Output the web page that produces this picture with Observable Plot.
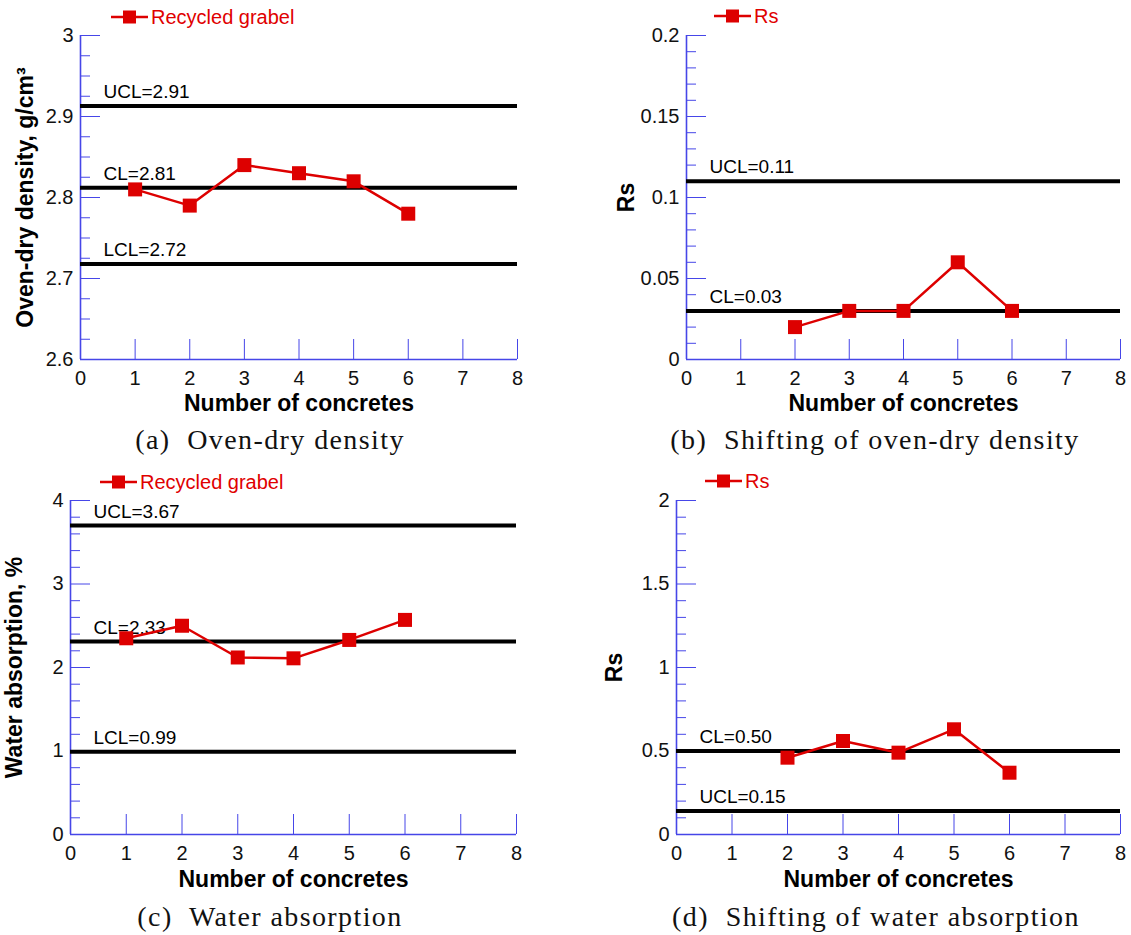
<!DOCTYPE html>
<html>
<head>
<meta charset="utf-8">
<script src="https://cdn.jsdelivr.net/npm/d3@7"></script>
<script src="https://cdn.jsdelivr.net/npm/@observablehq/plot@0.6"></script>
<style>
  body { margin: 0; background: #fff; }
  #fig { position: relative; width: 1131px; height: 935px; overflow: hidden; background: #fff; }
  .holder { position: absolute; }
  .legend { position: absolute; display: flex; align-items: center; color: #e00000;
            font-family: "Liberation Sans", Arial, sans-serif; font-size: 20px; white-space: nowrap; }
  .caption { position: absolute; font-family: "Liberation Serif", "Times New Roman", serif; font-size: 28px;
             letter-spacing: 1.4px; white-space: nowrap; transform: translateX(-50%); color: #111; line-height: 30px; }
</style>
</head>
<body>
<div id="fig"></div>
<script>
// ---------- data ----------
const xTicks = [0, 1, 2, 3, 4, 5, 6, 7, 8];
const xTickLabels = ["0", "1", "2", "3", "4", "5", "6", "7", "8"];
const xTitle = "Number of concretes";

// (a) Oven-dry density
const densityX = [1, 2, 3, 4, 5, 6];
const densityY = [2.81, 2.79, 2.84, 2.83, 2.82, 2.78];
const densityRef = [2.913, 2.812, 2.718];
const densityRefLabels = ["UCL=2.91", "CL=2.81", "LCL=2.72"];
const densityYTicks = [2.6, 2.7, 2.8, 2.9, 3];
const densityYTickLabels = ["2.6", "2.7", "2.8", "2.9", "3"];

// (b) Shifting of oven-dry density
const densityRsX = [2, 3, 4, 5, 6];
const densityRsY = [0.02, 0.03, 0.03, 0.06, 0.03];
const densityRsRef = [0.11, 0.03];
const densityRsRefLabels = ["UCL=0.11", "CL=0.03"];
const densityRsYTicks = [0, 0.05, 0.1, 0.15, 0.2];
const densityRsYTickLabels = ["0", "0.05", "0.1", "0.15", "0.2"];

// (c) Water absorption
const absorptionX = [1, 2, 3, 4, 5, 6];
const absorptionY = [2.35, 2.50, 2.12, 2.11, 2.33, 2.57];
const absorptionRef = [3.70, 2.31, 0.99];
const absorptionRefLabels = ["UCL=3.67", "CL=2.33", "LCL=0.99"];
const absorptionYTicks = [0, 1, 2, 3, 4];
const absorptionYTickLabels = ["0", "1", "2", "3", "4"];

// (d) Shifting of water absorption
const absorptionRsX = [2, 3, 4, 5, 6];
const absorptionRsY = [0.46, 0.56, 0.49, 0.63, 0.37];
const absorptionRsRef = [0.50, 0.14];
const absorptionRsRefLabels = ["CL=0.50", "UCL=0.15"];
const absorptionRsYTicks = [0, 0.5, 1, 1.5, 2];
const absorptionRsYTickLabels = ["0", "0.5", "1", "1.5", "2"];

const seriesNames = ["Recycled grabel", "Rs", "Recycled grabel", "Rs"];
const yTitles = ["Oven-dry density, g/cm\u00B3", "Rs", "Water absorption, %", "Rs"];
const captions = ["(a)\u00A0 Oven-dry density", "(b)\u00A0 Shifting of oven-dry density",
                  "(c)\u00A0 Water absorption", "(d)\u00A0 Shifting of water absorption"];

// ---------- styling / layout ----------
const BLUE = "#4646e8";
const RED = "#dd0000";
const FONT = "Liberation Sans, Arial, Helvetica, sans-serif";

const panels = [
  { xs: densityX, ys: densityY, ref: densityRef, refLabels: densityRefLabels, yTicks: densityYTicks, yTickLabels: densityYTickLabels, minorDiv: 4,
    svg: {left: 0, top: 0, w: 565, h: 420}, frame: {left: 80, right: 517, top: 35, bottom: 359}, yLabelOffset: 64, xLabelOffset: 51,
    legend: {left: 111, top: 5}, caption: {cx: 270, top: 425} },
  { xs: densityRsX, ys: densityRsY, ref: densityRsRef, refLabels: densityRsRefLabels, yTicks: densityRsYTicks, yTickLabels: densityRsYTickLabels, minorDiv: 5,
    svg: {left: 565, top: 0, w: 566, h: 420}, frame: {left: 686, right: 1120, top: 35, bottom: 359}, yLabelOffset: 69, xLabelOffset: 51,
    legend: {left: 714, top: 4}, caption: {cx: 875, top: 425} },
  { xs: absorptionX, ys: absorptionY, ref: absorptionRef, refLabels: absorptionRefLabels, yTicks: absorptionYTicks, yTickLabels: absorptionYTickLabels, minorDiv: 5,
    svg: {left: 0, top: 460, w: 565, h: 420}, frame: {left: 70, right: 516, top: 500, bottom: 834}, yLabelOffset: 65, xLabelOffset: 52,
    legend: {left: 100, top: 470}, caption: {cx: 270, top: 902} },
  { xs: absorptionRsX, ys: absorptionRsY, ref: absorptionRsRef, refLabels: absorptionRsRefLabels, yTicks: absorptionRsYTicks, yTickLabels: absorptionRsYTickLabels, minorDiv: 5,
    svg: {left: 565, top: 460, w: 566, h: 420}, frame: {left: 676, right: 1120, top: 500, bottom: 834}, yLabelOffset: 71, xLabelOffset: 52,
    legend: {left: 705, top: 469}, caption: {cx: 876, top: 902} }
];

const fig = document.getElementById("fig");

panels.forEach((p, k) => {
  const pts = p.xs.map((x, i) => ({x, y: p.ys[i]}));
  const refs = p.ref.map((v, i) => ({y: v, label: p.refLabels[i]}));
  const y0 = p.yTicks[0], y1 = p.yTicks[p.yTicks.length - 1];
  const step = (p.yTicks[1] - p.yTicks[0]) / p.minorDiv;
  const minor = d3.range(Math.round((y1 - y0) / step) + 1).map(i => y0 + i * step)
    .filter((v, i) => i % p.minorDiv !== 0);
  const yFmt = new Map(p.yTicks.map((t, i) => [t, p.yTickLabels[i]]));
  const xFmt = new Map(xTicks.map((t, i) => [t, xTickLabels[i]]));

  const S = p.svg, F = p.frame;
  const chart = Plot.plot({
    width: S.w, height: S.h,
    marginLeft: F.left - S.left, marginRight: S.left + S.w - F.right,
    marginTop: F.top - S.top, marginBottom: S.top + S.h - F.bottom,
    x: {domain: [0, 8]},
    y: {domain: [y0, y1]},
    style: {fontSize: "20px", fontFamily: FONT, color: "#111", background: "transparent", overflow: "visible"},
    marks: [
      Plot.axisY(minor, {tickSize: -10, tickFormat: () => "", stroke: BLUE, label: null}),
      Plot.axisY(p.yTicks, {tickSize: -20, tickFormat: () => "", stroke: BLUE, label: null}),
      Plot.axisX(xTicks.slice(1), {tickSize: -20, tickFormat: () => "", stroke: BLUE, label: null}),
      Plot.ruleX([0], {stroke: BLUE, strokeWidth: 1.6}),
      Plot.ruleY([y0], {stroke: BLUE, strokeWidth: 1.6}),
      Plot.axisY(p.yTicks, {tickSize: 0, tickPadding: 7, tickFormat: d => yFmt.get(d), label: null}),
      Plot.axisX(xTicks, {tickSize: 0, tickPadding: 11, tickFormat: d => xFmt.get(d), label: null}),
      // axis titles
      Plot.text([yTitles[k]], {text: d => d, frameAnchor: "left", rotate: -90, lineAnchor: "top", textAnchor: "middle",
        dx: -p.yLabelOffset, fontWeight: "bold", fontSize: 23, fill: "#000"}),
      Plot.text([xTitle], {text: d => d, frameAnchor: "bottom", lineAnchor: "bottom", textAnchor: "middle",
        dy: p.xLabelOffset, fontWeight: "bold", fontSize: 23, fill: "#000"}),
      // control lines
      Plot.ruleY(refs, {y: "y", stroke: "#000", strokeWidth: 4}),
      Plot.text(refs, {y: "y", text: "label", frameAnchor: "left", textAnchor: "start", lineAnchor: "bottom",
        dx: 23, dy: -8, fontSize: 19, fill: "#000"}),
      // series
      Plot.line(pts, {x: "x", y: "y", stroke: RED, strokeWidth: 2.5}),
      Plot.dot(pts, {x: "x", y: "y", symbol: "square", r: 7.9, fill: RED, stroke: "none"})
    ]
  });
  const holder = document.createElement("div");
  holder.className = "holder";
  holder.style.left = S.left + "px";
  holder.style.top = S.top + "px";
  holder.appendChild(chart);
  fig.appendChild(holder);

  // legend
  const lg = document.createElement("div");
  lg.className = "legend";
  lg.style.left = p.legend.left + "px";
  lg.style.top = p.legend.top + "px";
  lg.innerHTML = `<svg width="37" height="24"><line x1="0" x2="37" y1="12" y2="12" stroke="${RED}" stroke-width="2.5"/>` +
    `<rect x="12" y="5.5" width="13" height="13" fill="${RED}"/></svg><span style="margin-left:3px">${seriesNames[k]}</span>`;
  fig.appendChild(lg);

  // caption
  const cap = document.createElement("div");
  cap.className = "caption";
  cap.style.left = p.caption.cx + "px";
  cap.style.top = p.caption.top + "px";
  cap.textContent = captions[k];
  fig.appendChild(cap);
});
</script>
</body>
</html>
